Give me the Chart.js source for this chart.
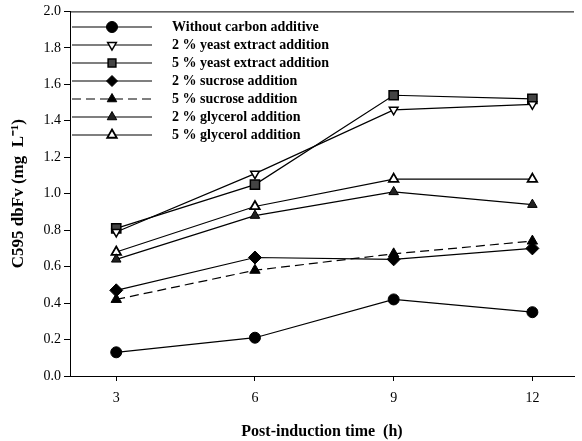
<!DOCTYPE html>
<html>
<head>
<meta charset="utf-8">
<script src="https://cdn.jsdelivr.net/npm/chart.js@4"></script>
<style>
  html, body { margin: 0; padding: 0; background: #fff; }
  #wrap { width: 582px; height: 441px; }
</style>
</head>
<body>
<div id="wrap"><canvas id="c" width="582" height="441"></canvas></div>
<script>
// temps post-induction (h)
const hours = [3, 6, 9, 12];
const xTicks = [3, 6, 9, 12];

// valeurs
const noCarbon = [0.13, 0.21, 0.42, 0.35];
const yeast2 = [0.79, 1.11, 1.46, 1.49];
const yeast5 = [0.81, 1.05, 1.54, 1.52];
const sucrose2 = [0.47, 0.65, 0.64, 0.70];
const sucrose5 = [0.42, 0.58, 0.67, 0.74];
const glycerol2 = [0.64, 0.88, 1.01, 0.94];
const glycerol5 = [0.68, 0.93, 1.08, 1.08];

const labels = [
  "Without carbon additive",
  "2 % yeast extract addition",
  "5 % yeast extract addition",
  "2 % sucrose addition",
  "5 % sucrose addition",
  "2 % glycerol addition",
  "5 % glycerol addition",
];

const serif = "'Liberation Serif', 'Times New Roman', serif";

function pts(values) {
  return values.map((v, i) => ({ x: hours[i], y: v }));
}

function ds(label, values, style, extra) {
  return Object.assign({
    label: label,
    data: pts(values),
    borderColor: "#000",
    borderWidth: 1.2,
    pointStyle: style,
    pointRadius: 5,
    pointBackgroundColor: "#000",
    pointBorderColor: "#000",
    pointBorderWidth: 1,
    fill: false,
    tension: 0,
  }, extra || {});
}

const datasets = [
  ds(labels[0], noCarbon, "circle", { pointRadius: 5.5 }),
  ds(labels[1], yeast2, "triangle", { pointRotation: 180, pointBackgroundColor: "#fff", pointBorderWidth: 1.5 }),
  ds(labels[2], yeast5, "rect", { pointRadius: 6.5, pointBackgroundColor: "#444", pointBorderWidth: 1.5 }),
  ds(labels[3], sucrose2, "rectRot", { pointRadius: 6.5 }),
  ds(labels[4], sucrose5, "triangle", { borderDash: [9, 5], pointRadius: 6 }),
  ds(labels[5], glycerol2, "triangle", { pointBackgroundColor: "#222", pointRadius: 5.5 }),
  ds(labels[6], glycerol5, "triangle", { pointBackgroundColor: "#fff", pointBorderWidth: 1.8, pointRadius: 5.5 }),
];

// légende dessinée à la main (ligne + symbole)
const legendPlugin = {
  id: "lineLegend",
  afterDatasetsDraw(chart) {
    const ctx = chart.ctx;
    const area = chart.chartArea;
    ctx.save();
    chart.data.datasets.forEach((d, i) => {
      const y = 27 + i * 18;
      ctx.strokeStyle = "#000";
      ctx.lineWidth = 1.2;
      ctx.setLineDash(d.borderDash || []);
      ctx.beginPath();
      ctx.moveTo(area.left + 2, y);
      ctx.lineTo(152, y);
      ctx.stroke();
      ctx.setLineDash([]);
      ctx.fillStyle = d.pointBackgroundColor;
      ctx.strokeStyle = "#000";
      ctx.lineWidth = d.pointBorderWidth;
      Chart.helpers.drawPoint(ctx, {
        pointStyle: d.pointStyle,
        rotation: d.pointRotation || 0,
        radius: Math.min(d.pointRadius, 5.5),
        borderWidth: d.pointBorderWidth,
      }, 112, y);
      ctx.fillStyle = "#000";
      ctx.font = "bold 14px " + serif;
      ctx.textBaseline = "middle";
      ctx.fillText(d.label, 172, y);
    });
    // ligne du haut du cadre
    ctx.strokeStyle = "#000";
    ctx.lineWidth = 1;
    ctx.beginPath();
    ctx.moveTo(area.left, area.top + 0.5);
    ctx.lineTo(area.right, area.top + 0.5);
    ctx.stroke();
    ctx.restore();
  },
};

const ctx = document.getElementById("c").getContext("2d");
new Chart(ctx, {
  type: "line",
  data: { datasets: datasets },
  options: {
    responsive: false,
    animation: false,
    layout: { padding: { top: 11, right: 2, left: 0, bottom: 0 } },
    plugins: {
      legend: { display: false },
      tooltip: { enabled: false },
    },
    scales: {
      x: {
        type: "linear",
        min: 2,
        max: 12.9,
        afterBuildTicks: (scale) => {
          scale.ticks = xTicks.map((v) => ({ value: v }));
        },
        afterFit: (scale) => { scale.height = 65; },
        grid: { drawOnChartArea: false, tickLength: 5, color: "#000" },
        border: { color: "#000", width: 1 },
        ticks: { color: "#000", font: { family: serif, size: 14 }, padding: 9 },
        title: {
          display: true,
          text: "Post-induction time  (h)",
          color: "#000",
          font: { family: serif, size: 16, weight: "bold" },
          padding: { top: 6, bottom: 0 },
        },
      },
      y: {
        min: 0,
        max: 2,
        afterFit: (scale) => { scale.width = 70; },
        grid: { drawOnChartArea: false, tickLength: 6, color: "#000" },
        border: { color: "#000", width: 1 },
        ticks: {
          stepSize: 0.2,
          color: "#000",
          font: { family: serif, size: 14 },
          padding: 3,
          callback: (v) => v.toFixed(1),
        },
        title: {
          display: true,
          text: "C595 dbFv (mg  L\u207B\u00B9)",
          color: "#000",
          font: { family: serif, size: 17, weight: "bold" },
          padding: { top: 8, bottom: 2 },
        },
      },
    },
  },
  plugins: [legendPlugin],
});
</script>
</body>
</html>
